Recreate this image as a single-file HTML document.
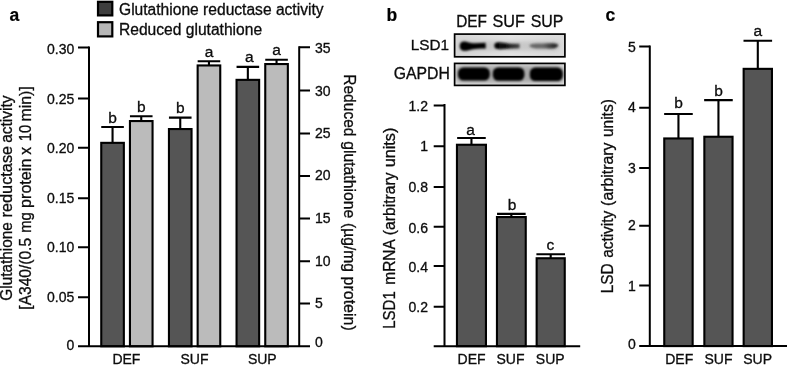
<!DOCTYPE html>
<html><head><meta charset="utf-8"><title>Figure</title>
<style>
html,body{margin:0;padding:0;background:#fff;}
svg{display:block;}
text{font-family:"Liberation Sans",Arial,Helvetica,sans-serif;fill:#0c0c0c;stroke:#0c0c0c;stroke-width:0.3px;}
.t14{font-size:14px;}
.lab{font-size:15.6px;}
.let{font-size:15.5px;text-anchor:middle;}
.pl{font-size:17.5px;font-weight:bold;fill:#000;stroke-width:0.2px;}
.ax{stroke:#000;stroke-width:2;fill:none;}
.eb{stroke:#000;stroke-width:2.1;fill:none;}
</style></head><body>
<svg width="787" height="365" viewBox="0 0 787 365">
<defs>
<filter id="bl1" x="-20%" y="-50%" width="140%" height="200%"><feGaussianBlur stdDeviation="1.3"/></filter>
<filter id="bl2" x="-20%" y="-50%" width="140%" height="200%"><feGaussianBlur stdDeviation="1.1"/></filter>
<linearGradient id="bg1" x1="0" x2="1" y1="0" y2="0"><stop offset="0" stop-color="#d6d6d6"/><stop offset="0.5" stop-color="#e4e4e4"/><stop offset="1" stop-color="#dadada"/></linearGradient>
<filter id="bl3" x="-20%" y="-80%" width="140%" height="260%"><feGaussianBlur stdDeviation="2.2"/></filter>
<linearGradient id="g2" x1="0" x2="1" y1="0" y2="0"><stop offset="0" stop-color="#000"/><stop offset="0.45" stop-color="#111"/><stop offset="1" stop-color="#4a4a4a"/></linearGradient>
<linearGradient id="g3" x1="0" x2="1" y1="0" y2="0"><stop offset="0" stop-color="#6a6a6a"/><stop offset="0.5" stop-color="#666"/><stop offset="0.85" stop-color="#2a2a2a"/><stop offset="1" stop-color="#333"/></linearGradient>
<clipPath id="c1"><rect x="454.5" y="34" width="110.5" height="23"/></clipPath>
<clipPath id="c2"><rect x="454.5" y="63.3" width="110.5" height="22.2"/></clipPath>
</defs>
<rect x="0" y="0" width="787" height="365" fill="#fff"/>
<!-- panel a -->
<text class="pl" x="9.4" y="20.8">a</text>
<rect x="98" y="1.8" width="14.3" height="13.6" fill="#3e3e3e" stroke="#000" stroke-width="2.2"/>
<rect x="98" y="22.2" width="14.3" height="14.2" fill="#b6b6b6" stroke="#000" stroke-width="2.2"/>
<text x="119" y="14.6" style="font-size:15.6px">Glutathione reductase activity</text>
<text x="119" y="35.1" style="font-size:15.6px">Reduced glutathione</text>
<path class="eb" d="M112.55 142.80V127.00M101.25 127.00H123.85"/>
<rect x="101.25" y="142.85" width="22.60" height="203.45" fill="#555555" stroke="#000" stroke-width="2.1"/>
<text class="let" x="112.55" y="123.00">b</text>
<path class="eb" d="M141.25 121.00V116.20M129.95 116.20H152.55"/>
<rect x="129.95" y="121.05" width="22.60" height="225.25" fill="#bbbbbb" stroke="#000" stroke-width="2.1"/>
<text class="let" x="141.25" y="112.40">b</text>
<path class="eb" d="M180.25 129.00V117.60M168.95 117.60H191.55"/>
<rect x="168.95" y="129.05" width="22.60" height="217.25" fill="#555555" stroke="#000" stroke-width="2.1"/>
<text class="let" x="180.25" y="112.70">b</text>
<path class="eb" d="M208.95 65.40V61.30M197.65 61.30H220.25"/>
<rect x="197.65" y="65.45" width="22.60" height="280.85" fill="#bbbbbb" stroke="#000" stroke-width="2.1"/>
<text class="let" x="208.95" y="56.50">a</text>
<path class="eb" d="M247.85 79.80V66.90M236.55 66.90H259.15"/>
<rect x="236.55" y="79.85" width="22.60" height="266.45" fill="#555555" stroke="#000" stroke-width="2.1"/>
<text class="let" x="249.25" y="62.30">a</text>
<path class="eb" d="M276.55 64.00V59.80M265.25 59.80H287.85"/>
<rect x="265.25" y="64.05" width="22.60" height="282.25" fill="#bbbbbb" stroke="#000" stroke-width="2.1"/>
<text class="let" x="276.55" y="55.00">a</text>
<path class="ax" d="M89 46.5V346.3M78 346.3H310"/>
<path class="ax" d="M78 47.5H89M78 98.5H89M78 147.8H89M78 198.2H89M78 247.2H89M78 297.3H89"/>
<path class="ax" d="M299.2 46.2V346.3"/>
<path class="ax" d="M299.2 47.2H310M299.2 90.6H310M299.2 133.4H310M299.2 176H310M299.2 218.5H310M299.2 261.3H310M299.2 303.4H310"/>
<text class="t14" text-anchor="end" x="74.3" y="53.7">0.30</text>
<text class="t14" text-anchor="end" x="74.3" y="104.2">0.25</text>
<text class="t14" text-anchor="end" x="74.3" y="152.5">0.20</text>
<text class="t14" text-anchor="end" x="74.3" y="202.8">0.15</text>
<text class="t14" text-anchor="end" x="74.3" y="252.0">0.10</text>
<text class="t14" text-anchor="end" x="74.3" y="302.4">0.05</text>
<text class="t14" text-anchor="end" x="74.3" y="349.6">0</text>
<text class="t14" x="315" y="52.7">35</text>
<text class="t14" x="315" y="95.6">30</text>
<text class="t14" x="315" y="137.7">25</text>
<text class="t14" x="315" y="180.2">20</text>
<text class="t14" x="315" y="223.0">15</text>
<text class="t14" x="315" y="266.0">10</text>
<text class="t14" x="315" y="308.4">5</text>
<text class="t14" x="315" y="347.1">0</text>
<text class="t14" text-anchor="middle" x="126.4" y="363.8">DEF</text>
<text class="t14" text-anchor="middle" x="194.5" y="363.8">SUF</text>
<text class="t14" text-anchor="middle" x="262.3" y="363.8">SUP</text>
<text class="lab" style="font-size:15.6px" textLength="78.42" lengthAdjust="spacingAndGlyphs" transform="translate(12.2 300.67) rotate(-90)">Glutathione</text>
<text class="lab" style="font-size:15.6px" textLength="71.62" lengthAdjust="spacingAndGlyphs" transform="translate(12.2 217.50) rotate(-90)">reductase</text>
<text class="lab" style="font-size:15.6px" textLength="47.28" lengthAdjust="spacingAndGlyphs" transform="translate(12.2 142.86) rotate(-90)">activity</text>
<text class="lab" style="font-size:15.6px" textLength="71.68" lengthAdjust="spacingAndGlyphs" transform="translate(31.3 309.63) rotate(-90)">[A340/(0.5</text>
<text class="lab" style="font-size:15.6px" textLength="20.55" lengthAdjust="spacingAndGlyphs" transform="translate(31.3 232.80) rotate(-90)">mg</text>
<text class="lab" style="font-size:15.6px" textLength="49.30" lengthAdjust="spacingAndGlyphs" transform="translate(31.3 207.95) rotate(-90)">protein</text>
<text class="lab" style="font-size:15.6px" textLength="7.79" lengthAdjust="spacingAndGlyphs" transform="translate(31.3 154.69) rotate(-90)">x</text>
<text class="lab" style="font-size:15.6px" textLength="16.39" lengthAdjust="spacingAndGlyphs" transform="translate(31.3 141.31) rotate(-90)">10</text>
<text class="lab" style="font-size:15.6px" textLength="35.17" lengthAdjust="spacingAndGlyphs" transform="translate(31.3 121.47) rotate(-90)">min)]</text>
<text class="lab" style="font-size:15.6px" textLength="62.26" lengthAdjust="spacingAndGlyphs" transform="translate(343.8 74.22) rotate(90)">Reduced</text>
<text class="lab" style="font-size:15.6px" textLength="77.05" lengthAdjust="spacingAndGlyphs" transform="translate(343.8 141.13) rotate(90)">glutathione</text>
<text class="lab" style="font-size:15.6px" textLength="48.89" lengthAdjust="spacingAndGlyphs" transform="translate(343.8 223.12) rotate(90)">(µg/mg</text>
<text class="lab" style="font-size:15.6px" textLength="54.15" lengthAdjust="spacingAndGlyphs" transform="translate(343.8 276.56) rotate(90)">protein)</text>
<!-- panel b -->
<text class="pl" x="386.6" y="20.8">b</text>
<text  style="font-size:16px" textLength="30.68" lengthAdjust="spacingAndGlyphs" x="456.23" y="26.6">DEF</text>
<text  style="font-size:16px" textLength="32.38" lengthAdjust="spacingAndGlyphs" x="492.47" y="26.6">SUF</text>
<text  style="font-size:16px" textLength="32.73" lengthAdjust="spacingAndGlyphs" x="530.68" y="26.6">SUP</text>
<text x="449" y="50.2" text-anchor="end" style="font-size:15.3px">LSD1</text>
<text x="449.9" y="79.4" text-anchor="end" style="font-size:15.8px">GAPDH</text>
<rect x="454.6" y="34.1" width="110.3" height="22.7" fill="url(#bg1)"/>
<g clip-path="url(#c1)">
<rect x="458" y="41" width="102" height="10" rx="5" fill="#9a9a9a" opacity="0.35" filter="url(#bl3)"/>
<g filter="url(#bl1)">
<path d="M459.8 46C459.8 41.2 464 40.8 468.5 42.4C474 44 480 43.2 485.6 42.8L485.8 48.6C480 48.8 474 48.6 468.5 50.2C464 51.6 459.8 51 459.8 46Z" fill="#000"/>
<path d="M494.3 45.6C494.3 42 498 41.8 503 42.8C509 43.8 515 43.8 519.6 43.8L519.6 48.2C515 48.4 509 48.6 503 49C498 49.6 494.3 49.4 494.3 45.6Z" fill="url(#g2)"/>
<path d="M529.3 46C530 43.4 536 43.6 543 43.6C549 43.4 555 42.8 558.2 44.6C558.6 48.6 553 48.8 546 48.6C540 48.6 532 49 529.3 46Z" fill="url(#g3)"/>
</g></g>
<rect x="454.6" y="34.1" width="110.3" height="22.7" fill="none" stroke="#000" stroke-width="1.7"/>
<rect x="454.6" y="63.4" width="110.3" height="22" fill="#e2e2e2"/>
<g clip-path="url(#c2)">
<rect x="455" y="65.5" width="110" height="17.5" rx="6" fill="#808080" opacity="0.6" filter="url(#bl3)"/>
<g filter="url(#bl2)">
<rect x="458" y="67.4" width="31.8" height="13.2" rx="5.5" fill="#000"/>
<rect x="492.8" y="67.4" width="31.6" height="13.4" rx="5.5" fill="#000"/>
<rect x="529.8" y="67.6" width="33" height="13.4" rx="5.5" fill="#000"/>
</g></g>
<rect x="454.6" y="63.4" width="110.3" height="22" fill="none" stroke="#000" stroke-width="1.7"/>
<path class="eb" d="M471.45 144.70V138.00M457.15 138.00H485.75"/>
<rect x="456.95" y="144.75" width="29.00" height="201.45" fill="#555555" stroke="#000" stroke-width="2.1"/>
<text class="let" x="470.65" y="134.60">a</text>
<path class="eb" d="M511.35 217.00V213.90M497.05 213.90H525.65"/>
<rect x="496.95" y="217.05" width="28.80" height="129.15" fill="#555555" stroke="#000" stroke-width="2.1"/>
<text class="let" x="511.95" y="210.10">b</text>
<path class="eb" d="M550.70 258.20V254.20M536.40 254.20H565.00"/>
<rect x="536.65" y="258.25" width="28.10" height="87.95" fill="#555555" stroke="#000" stroke-width="2.1"/>
<text class="let" x="550.40" y="250.00">c</text>
<path class="ax" d="M444.5 104V346.2M433.7 346.2H580.2"/>
<path class="ax" d="M433.7 105.6H444.5M433.7 146.3H444.5M433.7 187.1H444.5M433.7 226.8H444.5M433.7 265.9H444.5M433.7 306.8H444.5"/>
<text class="t14" text-anchor="end" x="428" y="111.0">1.2</text>
<text class="t14" text-anchor="end" x="428" y="151.3">1</text>
<text class="t14" text-anchor="end" x="428" y="191.9">0.8</text>
<text class="t14" text-anchor="end" x="428" y="232.5">0.6</text>
<text class="t14" text-anchor="end" x="428" y="271.7">0.4</text>
<text class="t14" text-anchor="end" x="428" y="311.7">0.2</text>
<text class="t14" text-anchor="middle" x="471.6" y="363.7">DEF</text>
<text class="t14" text-anchor="middle" x="510.5" y="363.7">SUF</text>
<text class="t14" text-anchor="middle" x="550.2" y="363.7">SUP</text>
<text class="lab" style="font-size:15.6px" textLength="37.47" lengthAdjust="spacingAndGlyphs" transform="translate(394.7 328.74) rotate(-90)">LSD1</text>
<text class="lab" style="font-size:15.6px" textLength="45.57" lengthAdjust="spacingAndGlyphs" transform="translate(394.7 284.74) rotate(-90)">mRNA</text>
<text class="lab" style="font-size:15.6px" textLength="62.73" lengthAdjust="spacingAndGlyphs" transform="translate(394.7 235.18) rotate(-90)">(arbitrary</text>
<text class="lab" style="font-size:15.6px" textLength="39.57" lengthAdjust="spacingAndGlyphs" transform="translate(394.7 167.25) rotate(-90)">units)</text>
<!-- panel c -->
<text class="pl" x="605.4" y="20.5">c</text>
<path class="eb" d="M678.45 138.40V114.00M664.15 114.00H692.75"/>
<rect x="664.25" y="138.45" width="28.40" height="207.65" fill="#555555" stroke="#000" stroke-width="2.1"/>
<text class="let" x="678.45" y="108.30">b</text>
<path class="eb" d="M718.45 136.70V100.10M704.15 100.10H732.75"/>
<rect x="704.35" y="136.75" width="28.20" height="209.35" fill="#555555" stroke="#000" stroke-width="2.1"/>
<text class="let" x="718.45" y="95.80">b</text>
<path class="eb" d="M757.80 68.80V40.70M743.50 40.70H772.10"/>
<rect x="743.65" y="68.85" width="28.30" height="277.25" fill="#555555" stroke="#000" stroke-width="2.1"/>
<text class="let" x="757.80" y="36.30">a</text>
<path class="ax" d="M649.8 45.5V346.1M639.2 346.1H787"/>
<path class="ax" d="M639.2 46.5H649.8M639.2 107.8H649.8M639.2 168H649.8M639.2 225.8H649.8M639.2 285.6H649.8"/>
<text class="t14" text-anchor="end" x="635.8" y="52.2">5</text>
<text class="t14" text-anchor="end" x="635.8" y="112.4">4</text>
<text class="t14" text-anchor="end" x="635.8" y="172.8">3</text>
<text class="t14" text-anchor="end" x="635.8" y="230.3">2</text>
<text class="t14" text-anchor="end" x="635.8" y="290.8">1</text>
<text class="t14" text-anchor="end" x="635.8" y="349.2">0</text>
<text class="t14" text-anchor="middle" x="679.2" y="363.7">DEF</text>
<text class="t14" text-anchor="middle" x="718.5" y="363.7">SUF</text>
<text class="t14" text-anchor="middle" x="757.6" y="363.7">SUP</text>
<text class="lab" style="font-size:15.6px" textLength="29.90" lengthAdjust="spacingAndGlyphs" transform="translate(612.5 293.27) rotate(-90)">LSD</text>
<text class="lab" style="font-size:15.6px" textLength="47.07" lengthAdjust="spacingAndGlyphs" transform="translate(612.5 257.85) rotate(-90)">activity</text>
<text class="lab" style="font-size:15.6px" textLength="63.44" lengthAdjust="spacingAndGlyphs" transform="translate(612.5 205.89) rotate(-90)">(arbitrary</text>
<text class="lab" style="font-size:15.6px" textLength="37.99" lengthAdjust="spacingAndGlyphs" transform="translate(612.5 137.11) rotate(-90)">units)</text>
</svg>
</body></html>
